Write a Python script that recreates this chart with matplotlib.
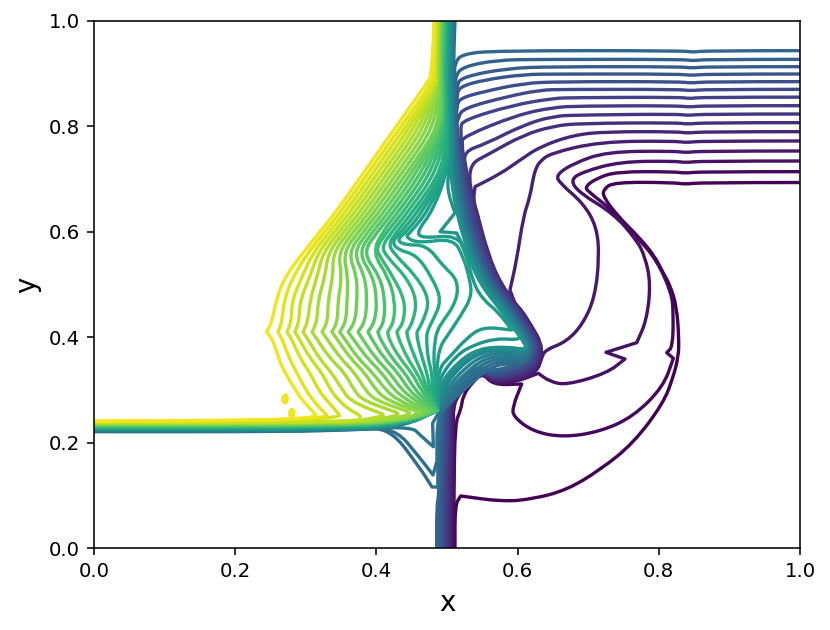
import matplotlib
matplotlib.use("Agg")
import matplotlib.pyplot as plt
from matplotlib.path import Path
from matplotlib.patches import PathPatch


# =========================
# Data (x, y in axis units)
# Levels run 0 (dark) .. 45 (yellow); k = 45 - level
# A point written twice stays a sharp corner
# =========================
N_LEVELS = 46

# shared top part, x per level at fixed y, from level 45 downwards
ROW_100 = [.4816,.4826,.4836,.4847,.4857,.4867,.4877,.4887,.4898,.4908,.4918,.4928,.4938,.4949,.4959,.4969,.4979,.4989,.4999,.501,.502,.503,.504,.5051,.5061,.5071,.5081,.5091,.5102,.5113]
ROW_90 = [.4795,.4805,.4815,.4825,.4835,.4845,.4855,.4865,.4875,.4885,.4895,.4905,.4915,.4925,.4935,.4945,.4955,.4965,.4975,.4985,.4995,.5005,.5015,.5025,.5035,.5045,.5055,.5065,.5075,.5085,.5105]
ROW_88 = [.4705,.4775,.4825,.4838,.4848,.4858,.4868,.4878,.4889,.4899,.4909,.4919,.4929,.494,.495,.496,.497,.498,.499,.5001,.5011,.5021,.5031,.5042,.5052,.5062,.5072,.5082,.5092,.5104,.5115,.512]
ROW_80 = [.428,.4348,.4416,.4484,.4552,.462,.4688,.4756,.4824,.4892,.4918,.4928,.4938,.4949,.4959,.4969,.4979,.4989,.4999,.501,.502,.503,.504,.5051,.5061,.5071,.5081,.5091,.5102,.5113,.5118,.512,.5122,.5125,.5128,.513]
ROW_72 = [.386,.3928,.3996,.4064,.4132,.42,.4268,.4336,.4404,.4472,.454,.4608,.4676,.4744,.4812,.488,.4948,.499,.5,.501,.502,.503,.504,.505,.5061,.5075,.509,.5105,.512,.5135,.515,.5165,.518,.5195,.521,.5225,.524,.5255,.527]

# outer fan, levels 45..32
FAN_Y = [.64,.60,.56,.515,.47,.43,.41,.41,.395,.36,.332,.30,.281,.262]
FAN_64 = [.344,.3508,.3576,.3644,.3712,.378,.3848,.3916,.3984,.4052,.412,.4188,.4256,.4324]
FAN_60 = [.32,.3268,.3336,.3404,.3472,.354,.3608,.3676,.3744,.3812,.388,.3948,.4016,.4084]
FAN_56 = [.296,.3031,.3102,.3173,.3244,.3315,.3386,.3457,.3528,.3599,.367,.3741,.3805,.3945]
FAN_515 = [.2705,.2819,.2946,.3059,.3159,.3272,.3385,.3513,.3598,.3725,.3839,.3952,.4051,.4164]
FAN_47 = [.2578,.2691,.2805,.2918,.3059,.3173,.3314,.3456,.3584,.3725,.3867,.4008,.4122,.4263]
FAN_43 = [.2525,.2665,.2795,.2905,.303,.316,.331,.345,.357,.37,.384,.398,.411,.425]
FAN_41 = [.2446,.2606,.2734,.2847,.296,.3088,.323,.337,.348,.36,.374,.388,.402,.416]
FAN_395 = [.2535,.267,.2805,.2915,.3035,.3165,.331,.345,.356,.368,.381,.394,.406,.418]
FAN_36 = [.2615,.2765,.292,.306,.319,.334,.349,.363,.374,.387,.399,.411,.422,.433]
FAN_332 = [.2705,.2875,.306,.323,.337,.3555,.3697,.3839,.3952,.408,.4193,.4306,.4405,.4504]
FAN_30 = [.2855,.3,.318,.335,.352,.368,.384,.399,.413,.425,.436,.446,.455,.463]
FAN_281 = [.2946,.3102,.329,.346,.362,.38,.398,.415,.43,.443,.454,.462,.469,.474]
FAN_262 = [.308,.322,.342,.362,.392,.418,.438,.452,.462,.469,.474,.478,.481,.483]
FAN_END_X = [.32,.337,.353,.381,.415,.436,.452,.462,.47,.476,.48,.483,.485,.487]
FAN_END_Y = [.243,.243,.243,.2486,.2524,.254,.256,.257,.258,.258,.259,.259,.259,.26]

# inner fan with kinks, levels 31..24
MID_31 = [(.4392,.64),(.4152,.60),(.3994,.5693),(.405,.553),(.4235,.515),(.4405,.47),(.439,.43),(.429,.41),(.429,.41),(.432,.395),(.444,.36),(.4575,.332),(.469,.30),(.477,.281),(.485,.262),(.488,.26)]
MID_30 = [(.446,.64),(.422,.60),(.4075,.5719),(.4146,.5529),(.4433,.5123),(.4575,.47),(.452,.43),(.443,.41),(.443,.41),(.445,.395),(.455,.36),(.4646,.332),(.472,.30),(.479,.281),(.486,.262),(.488,.26)]
MID_29 = [(.4528,.64),(.4288,.60),(.417,.577),(.425,.558),(.457,.515),(.4759,.47),(.466,.43),(.4575,.41),(.4575,.41),(.458,.395),(.465,.36),(.4717,.332),(.476,.30),(.481,.281),(.486,.262),(.488,.26)]
MID_28 = [(.4596,.64),(.4356,.60),(.4216,.5812),(.431,.5655),(.4571,.556),(.478,.515),(.4929,.47),(.479,.43),(.4717,.41),(.471,.395),(.473,.36),(.4788,.332),(.479,.30),(.482,.281),(.486,.262),(.488,.26)]
MID_27 = [(.4664,.64),(.4424,.60),(.4288,.5844),(.4405,.5749),(.4712,.5749),(.4945,.535),(.5156,.5085),(.5137,.4673),(.49,.4225),(.486,.41),(.483,.395),(.481,.36),(.483,.332),(.483,.30),(.484,.281),(.486,.262),(.488,.26)]
MID_26 = [(.4732,.64),(.4492,.60),(.4405,.5907),(.4589,.5782),(.5085,.5877),(.5231,.5528),(.5326,.5085),(.535,.4769),(.5187,.4389),(.4995,.401),(.4901,.382),(.486,.35),(.485,.31),(.485,.281),(.486,.262),(.488,.26)]
MID_25 = [(.48,.64),(.4571,.6002),(.4642,.5877),(.5137,.5939),(.5269,.5592),(.5373,.5022),(.5515,.4706),(.5722,.4484),(.5916,.4137),(.5916,.4137),(.551,.4199),(.5279,.3985),(.5042,.363),(.4901,.344),(.487,.31),(.487,.27),(.4885,.26)]
MID_24 = [(.5,.68),(.5113,.6357),(.5113,.6357),(.4901,.6002),(.4901,.6002),(.5137,.5977),(.5137,.5977),(.528,.56),(.547,.50),(.577,.45),(.5915,.42),(.603,.404),(.603,.404),(.6015,.3947),(.5704,.3979),(.5373,.3852),(.5137,.3662),(.4901,.325),(.487,.29),(.4875,.26)]

# main bundle, x at fixed y, levels 23..5
BUNDLE_Y = [.64,.56,.50,.45,.42,.39]
R_64 = [.5125,.5135,.5145,.516,.5175,.519,.5205,.522,.5235,.525,.5265,.528,.53,.532,.534,.536,.538,.54,.542]
R_56 = [.53,.531,.532,.5335,.535,.5365,.538,.5395,.541,.5425,.544,.5455,.547,.549,.551,.553,.5545,.556,.5575]
R_50 = [.5495,.5508,.552,.5535,.5551,.5566,.5581,.5597,.5612,.5627,.5642,.5658,.5673,.5688,.5704,.5719,.5734,.575,.5765]
R_45 = [.579,.5805,.582,.5834,.5849,.5863,.5878,.5892,.5906,.5921,.5935,.595,.5964,.5978,.5993,.6007,.6022,.6036,.605]
R_42 = [.593,.5945,.596,.5974,.5989,.6003,.6018,.6032,.6046,.6061,.6075,.609,.6104,.6118,.6133,.6147,.6162,.6176,.619]
R_39 = [.6095,.6107,.612,.6133,.6145,.6158,.617,.6183,.6195,.6208,.622,.6233,.6245,.6258,.627,.6283,.6295,.6308,.632]

# arcs over the vortex, levels 23..16
ARC_23 = [(.6129,.3757),(.5846,.382),(.5467,.3789),(.5184,.3567),(.4901,.3131)]
ARC_22 = [(.6132,.374),(.5848,.379),(.5485,.3755),(.5205,.353),(.4925,.3095)]
ARC_21 = [(.6135,.372),(.585,.376),(.55,.372),(.522,.349),(.495,.305)]
ARC_20 = [(.614,.368),(.585,.371),(.552,.366),(.525,.342),(.498,.30)]
ARC_19 = [(.6145,.364),(.585,.366),(.554,.36),(.528,.335),(.5,.295)]
ARC_18 = [(.615,.36),(.585,.361),(.556,.354),(.53,.328),(.503,.29),(.4797,.2372),(.4797,.2372),(.4806,.1922),(.4806,.1922),(.4618,.2144),(.4504,.2296),(.372,.2265),(.273,.2221),(0,.2221)]
ARC_17 = [(.6155,.356),(.585,.356),(.558,.348),(.533,.321),(.505,.285),(.4858,.25),(.4858,.1651),(.4858,.1651),(.4802,.1385),(.4802,.1385),(.4618,.1708),(.4263,.2277),(.372,.2255),(.273,.2214),(0,.2214)]
ARC_16 = [(.616,.352),(.585,.351),(.56,.342),(.535,.314),(.507,.28),(.4875,.25),(.487,.1157),(.487,.1157),(.4788,.1157),(.4788,.1157),(.4618,.1518),(.419,.2277),(.372,.2245),(.273,.2207),(0,.2207)]

# left horizontal band, y per level 45..19, then back from the wedge
TAIL_Y = [.241,.2403,.2396,.2389,.2382,.2375,.2368,.2361,.2354,.2347,.234,.2333,.2326,.2319,.2312,.2305,.2298,.2291,.2284,.2277,.227,.2263,.2256,.2249,.2242,.2235,.2228]
WEDGE_X = [.395,.41,.425,.44,.44,.44,.44,.44,.44,.44,.44,.44,.44,.44,.44,.44,.44,.44,.44,.44,.44,.44,.44]
WEDGE_Y = [.2467,.246,.2453,.2446,.2439,.2432,.2425,.2418,.2411,.2404,.2397,.239,.2383,.2376,.2369,.2362,.2355,.2348,.2341,.2334,.2327,.232,.2313]

# right hand parts, levels 15..5, from x = 1 to where they meet the bundle
RIGHT_15 = [(1,.9437),(.865,.9437),(.8484,.9405),(.835,.9437),(.5703,.9437),(.5208,.9374),(.5113,.9197)]
RIGHT_14 = [(1,.9272),(.865,.9272),(.848,.9245),(.835,.9272),(.6317,.9272),(.5703,.926),(.5231,.9133),(.5127,.8975)]
RIGHT_13 = [(1,.9133),(.865,.9133),(.847,.9105),(.833,.9133),(.6459,.9133),(.5845,.9101),(.5231,.8943),(.5127,.8786)]
RIGHT_12 = [(1,.8994),(.865,.8994),(.847,.8965),(.83,.8994),(.6553,.8994),(.6081,.8987),(.5515,.888),(.5184,.8754),(.5137,.8596)]
RIGHT_11 = [(1,.8849),(.865,.8849),(.846,.882),(.83,.8849),(.6553,.8849),(.6081,.8817),(.5515,.8659),(.5184,.8533),(.5137,.8387)]
RIGHT_10 = [(1,.8703),(.865,.8703),(.845,.8675),(.83,.8703),(.6648,.8703),(.6317,.869),(.5845,.8564),(.5231,.8343),(.516,.8173)]
RIGHT_9 = [(1,.8555),(.86,.8555),(.844,.8525),(.83,.8555),(.679,.8546),(.6506,.8533),(.594,.8406),(.5231,.8121),(.5184,.7964)]
RIGHT_8 = [(1,.8393),(.86,.8393),(.844,.8365),(.825,.8393),(.6884,.8387),(.6506,.8362),(.5987,.8216),(.5231,.7805),(.5208,.7678)]
RIGHT_7 = [(1,.8235),(.86,.8235),(.843,.8205),(.825,.8235),(.6884,.8216),(.6506,.8197),(.6081,.8026),(.5562,.7678),(.5231,.752)]
RIGHT_6 = [(1,.8071),(.86,.8071),(.842,.804),(.825,.8071),(.6884,.8058),(.6506,.8007),(.6081,.7837),(.561,.7489),(.5278,.7249)]
RIGHT_5 = [(1,.79),(.86,.79),(.842,.787),(.825,.79),(.7262,.79),(.679,.7837),(.6317,.7615),(.6034,.736),(.575,.7096),(.5397,.6856),(.5397,.6856),(.5373,.6603)]

# long arcs, levels 4..0
HEAD_4 = [(1,.7723),(.855,.7723),(.841,.769),(.82,.7723),(.7167,.771),(.6459,.7488),(.6317,.733),(.627,.7236),(.6223,.7045),(.6176,.6666),(.6081,.6287),(.5987,.5465),(.5892,.4896),(.5892,.4896),(.5963,.4643),(.5963,.4643),(.6064,.45),(.6204,.42),(.6333,.39)]
HEAD_3 = [(1,.7533),(.855,.7533),(.84,.75),(.82,.7533),(.726,.752),(.679,.7298),(.6543,.7078),(.6601,.692),(.6931,.654),(.712,.6097),(.7157,.5528),(.7096,.4769),(.6931,.4263),(.6695,.3915),(.6388,.3757),(.634,.36),(.634,.36)]
HEAD_2 = [(1,.7343),(.855,.7343),(.84,.731),(.82,.7343),(.7449,.733),(.693,.7141),(.6742,.6983),(.6884,.673),(.7356,.635),(.7687,.5844),(.7805,.5528),(.7885,.5023),(.7829,.4326),(.7687,.3896),(.7687,.3896),(.7252,.3713),(.7252,.3713),(.7521,.3586),(.7521,.3586),(.7262,.3315),(.6695,.3093),(.6459,.3156),(.6293,.3315),(.6293,.3315)]
HEAD_1 = [(1,.7141),(.855,.7141),(.839,.711),(.82,.7141),(.7403,.7141),(.7119,.7015),(.6955,.6856),(.7002,.6761),(.7309,.6446),(.7687,.5907),(.797,.5465),(.8183,.4833),(.8206,.4453),(.8197,.382),(.8112,.3706),(.8112,.3706),(.8206,.36),(.8206,.36),(.8064,.3061),(.7639,.2492),(.7167,.2207),(.6648,.21),(.6222,.2207),(.5939,.2492),(.593,.2681),(.6058,.3112),(.6058,.3112)]
LINE_0 = [(1,.6935),(.855,.6935),(.8385,.69),(.82,.6935),(.7356,.6941),(.7215,.6801),(.7214,.6666),(.7404,.6319),(.7734,.5877),(.7946,.5528),(.8064,.5212),(.8159,.499),(.8254,.4579),(.8286,.3947),(.8276,.363),(.8206,.325),(.8064,.2746),(.7639,.1987),(.7167,.148),(.6695,.11),(.6218,.093),(.5793,.0879),(.5194,.0987),(.5194,.0987),(.5113,.0816),(.5113,0)]

# wrap under the vortex and down to y = 0, index = level - 1 (levels 1..15)
TURN_X = [.634,.632,.6305,.629,.6275,.626,.6245,.623,.6215,.62,.6185,.617]  # levels 4..15 at y = .365
EDGE_X = [.6289,.6275,.6261,.6247,.6233,.6219,.6205,.6191,.6177,.6163,.6149,.6135,.6121,.6107]  # levels 2..15
EDGE_Y = [.332,.3339,.3358,.3377,.3396,.3415,.3434,.3453,.3472,.3491,.351,.3529,.3548,.3567]
LOW_X = [.5987,.5979,.5971,.5963,.5955,.5947,.5939,.5931,.5923,.5915,.5907,.5899,.5891,.5883,.5875]
LOW_Y = [.3131,.3153,.3175,.3197,.3219,.3241,.3263,.3285,.3307,.3329,.3351,.3373,.3395,.3417,.3439]
FOOT_Y = [.3093,.3112,.3131,.315,.3169,.3188,.3207,.3226,.3245,.3264,.3283,.3302,.3321,.334,.3359]
NOTCH_X = [.551,.5502,.5494,.5486,.5478,.547,.5462,.5454,.5446,.5438,.543,.5422,.5414,.5406,.5398]
NOTCH_Y = [.332,.333,.334,.335,.336,.337,.338,.339,.34,.341,.342,.343,.344,.345,.346]
BACK_X = [.5368,.5355,.5342,.5329,.5316,.5303,.529,.5277,.5264,.5251,.5238,.5225,.5212,.5199,.5186]
X_290 = [.5227,.515,.5138,.5126,.5114,.5102,.509,.5078,.5066,.5054,.5042,.503,.5018,.5006,.4994]
X_262 = [.5198,.5085,.5073,.5061,.5049,.5037,.5025,.5013,.5001,.4989,.4977,.4965,.4953,.4941,.4929]
X_237 = [.5113,.5098,.5083,.5068,.5053,.5038,.5023,.5008,.4993,.4978,.4963,.4948,.4933,.4918,.4903]
X_100 = [.5099,.5083,.5066,.505,.5033,.5017,.5,.4983,.4967,.495,.4934,.4917,.4901,.4884,.4887]
X_000 = [.5099,.5083,.5066,.505,.5033,.5017,.5,.4983,.4967,.495,.4934,.4917,.4901,.4884,.4854]

# two small closed yellow islands
ISLE_A = [(.2705,.2925),(.2745,.2825),(.2705,.2725),(.2665,.2825),(.2705,.2925),(.2745,.2825)]
ISLE_B = [(.28,.2645),(.284,.2555),(.28,.247),(.276,.2555),(.28,.2645),(.284,.2555)]


# =========================
# Build the lines
# =========================
def top_part(k):
    return [(ROW_100[k], 1.0), (ROW_90[k], .90), (ROW_88[k], .88), (ROW_80[k], .80), (ROW_72[k], .72)]


def tail(k, start=.36):
    return [(WEDGE_X[k - 4], WEDGE_Y[k - 4]), (start, TAIL_Y[k]), (0, TAIL_Y[k])]


def bundle_part(level):
    i = 23 - level
    return list(zip([R_64[i], R_56[i], R_50[i], R_45[i], R_42[i], R_39[i]], BUNDLE_Y))


def wrap_part(level):
    i = level - 1
    pts = []
    if level >= 4:
        pts.append((TURN_X[level - 4], .365))
    if level >= 3:
        pts.append((EDGE_X[level - 2], EDGE_Y[level - 2]))
    if level >= 2:
        pts.append((LOW_X[i], LOW_Y[i]))
    pts += [(.5652, FOOT_Y[i]), (NOTCH_X[i], NOTCH_Y[i]), (BACK_X[i], .3156),
            (X_290[i], .29), (X_262[i], .262), (X_237[i], .2372),
            (X_100[i], .10), (X_000[i], .08), (X_000[i], 0)]
    return pts


def smooth_path(pts):
    # quadratic curves through the mid points, so the read points act as controls
    verts = [pts[0]]
    codes = [Path.MOVETO]
    for p, q in zip(pts[1:-1], pts[2:]):
        verts += [p, ((p[0] + q[0]) / 2, (p[1] + q[1]) / 2)]
        codes += [Path.CURVE3, Path.CURVE3]
    verts.append(pts[-1])
    codes.append(Path.LINETO)
    return Path(verts, codes)


lines = {}

lines[0] = LINE_0
lines[1] = HEAD_1 + wrap_part(1)
lines[2] = HEAD_2 + wrap_part(2)
lines[3] = HEAD_3 + wrap_part(3)
lines[4] = HEAD_4 + wrap_part(4)

rights = {5: RIGHT_5, 6: RIGHT_6, 7: RIGHT_7, 8: RIGHT_8, 9: RIGHT_9, 10: RIGHT_10,
          11: RIGHT_11, 12: RIGHT_12, 13: RIGHT_13, 14: RIGHT_14, 15: RIGHT_15}
upper_rows = [(.90, ROW_90), (.88, ROW_88), (.80, ROW_80), (.72, ROW_72)]
for level, right in rights.items():
    pts = list(right)
    entry_y = right[-1][1]
    for y, row in upper_rows:
        if y < entry_y - .005:
            pts.append((row[45 - level], y))
    lines[level] = pts + bundle_part(level) + wrap_part(level)

arcs = {23: ARC_23, 22: ARC_22, 21: ARC_21, 20: ARC_20, 19: ARC_19,
        18: ARC_18, 17: ARC_17, 16: ARC_16}
for level, arc in arcs.items():
    k = 45 - level
    pts = top_part(k) + bundle_part(level) + arc
    if level >= 19:
        pts += [(.488, .262)] + tail(k)
    lines[level] = pts

mids = {31: MID_31, 30: MID_30, 29: MID_29, 28: MID_28, 27: MID_27, 26: MID_26, 25: MID_25, 24: MID_24}
for level, mid in mids.items():
    k = 45 - level
    lines[level] = top_part(k) + mid + tail(k)

fan_rows = [FAN_64, FAN_60, FAN_56, FAN_515, FAN_47, FAN_43, FAN_41, FAN_41, FAN_395, FAN_36, FAN_332, FAN_30, FAN_281, FAN_262]
for k in range(14):
    pts = top_part(k) + [(row[k], y) for row, y in zip(fan_rows, FAN_Y)]
    pts.append((FAN_END_X[k], FAN_END_Y[k]))
    if k >= 4:
        pts += tail(k)
    elif k == 3:
        pts += [(.37, TAIL_Y[k]), (0, TAIL_Y[k])]
    else:
        pts.append((0, TAIL_Y[k]))
    lines[45 - k] = pts


# =========================
# Plot
# =========================
fig = plt.figure(figsize=(830 / 142, 630 / 142), dpi=142)
ax = fig.add_axes([94 / 830, 82 / 630, 706 / 830, 527 / 630])

for level in sorted(lines):
    ax.add_patch(PathPatch(smooth_path(lines[level]), fill=False, linewidth=1.7,
                           edgecolor=plt.cm.viridis(level / N_LEVELS), joinstyle="round"))

for isle in (ISLE_A, ISLE_B):
    ax.add_patch(PathPatch(smooth_path(isle), fill=False, linewidth=1.7,
                           edgecolor=plt.cm.viridis(45 / N_LEVELS)))

ax.set_xlim(0, 1)
ax.set_ylim(0, 1)
ax.set_xlabel("x", fontsize=14)
ax.set_ylabel("y", fontsize=14)

fig.savefig("out.png", dpi=142)
